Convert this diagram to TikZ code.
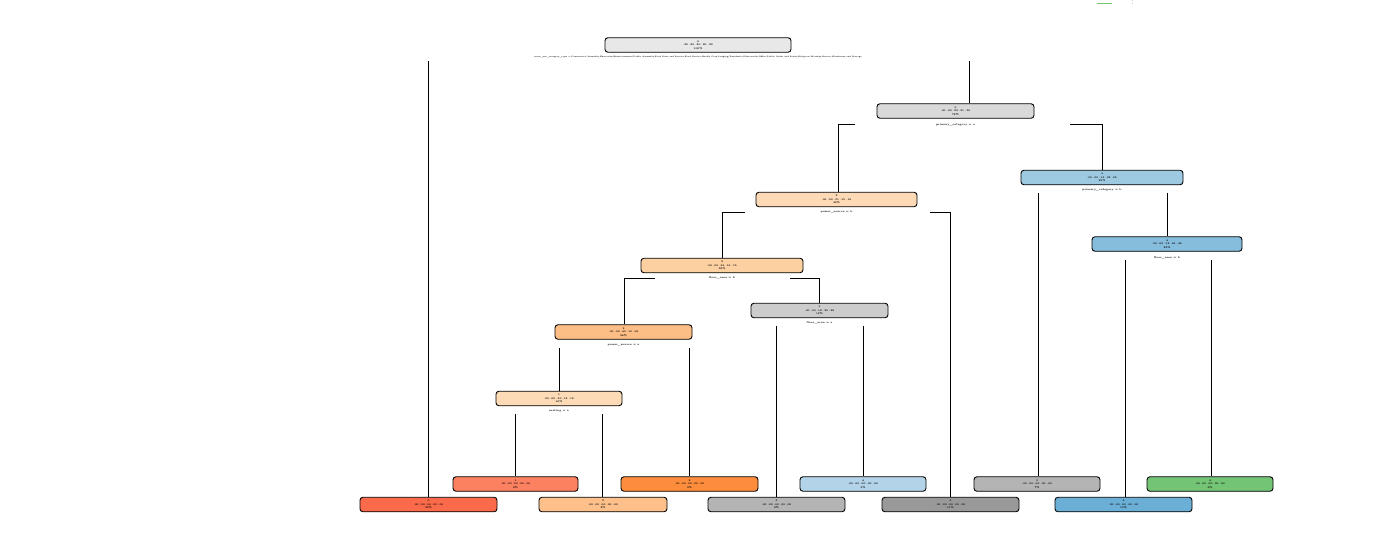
\documentclass[tikz,border=0pt]{standalone}
\usepackage{xcolor}
\begin{document}
\begin{tikzpicture}[x=1pt,y=-1pt,
  box/.style={draw=black, line width=0.9pt, rounded corners=3pt, minimum height=14.5pt, inner sep=0pt, align=center, font=\fontsize{2.5}{3.5}\selectfont\bfseries},
  lbl/.style={inner sep=0pt, font=\fontsize{2.6}{3}\selectfont\bfseries},
  br/.style={line width=0.6pt}]
\useasboundingbox (0,0) rectangle (1398,550);
\definecolor{cRoot}{HTML}{E8E8E8}
\definecolor{cTwo}{HTML}{D9D9D9}
\definecolor{cFive}{HTML}{9ECAE1}
\definecolor{cBlueB}{HTML}{86BCDC}
\definecolor{cFour}{HTML}{FDDAB5}
\definecolor{cEight}{HTML}{FDD0A2}
\definecolor{cGrayN}{HTML}{CCCCCC}
\definecolor{cOrN}{HTML}{FDBE85}
\definecolor{cLP}{HTML}{FDDBB7}
\definecolor{cSalmon}{HTML}{FC8161}
\definecolor{cRed}{HTML}{FB6A4A}
\definecolor{cOrange}{HTML}{FD8D3C}
\definecolor{cLBlue}{HTML}{B3D3E8}
\definecolor{cGrayL}{HTML}{B4B4B4}
\definecolor{cGreen}{HTML}{74C476}
\definecolor{cPeach}{HTML}{FDC08A}
\definecolor{cDGray}{HTML}{999999}
\definecolor{cBlue}{HTML}{6BAED6}
% legend
\draw[cGreen, line width=0.8pt] (1097,3) -- (1112,3);
\node[inner sep=0pt, align=center, font=\fontsize{2.5}{2.5}\selectfont\bfseries] (leg) at (1133,2.5) {:\\:};
% internal nodes
\node[box, fill=cRoot, minimum width=186pt] (n1) at (698,45) {0\\.20 .20 .20 .20 .20\\100\%};
\node[lbl, font=\fontsize{1.9}{2.3}\selectfont\bfseries] (l1) at (698,57) {main\_use\_category\_type = Commercial Assembly,Education,Entertainment/Public Assembly,Food Sales and Service,Food Service,Health Care,Lodging/Residential,Mercantile,Office,Public Order and Safety,Religious Worship,Service,Warehouse and Storage};
\node[box, fill=cTwo, minimum width=157pt] (n2) at (955.5,111) {0\\.00 .00 .22 .21 .30\\78\%};
\node[lbl] (l2) at (955.5,125) {primary\_category = a};
\node[box, fill=cFive, minimum width=162pt] (n5) at (1102,177.5) {4\\.00 .00 .13 .32 .55\\29\%};
\node[lbl] (l5) at (1102,190) {primary\_category = b};
\node[box, fill=cBlueB, minimum width=150pt] (n11) at (1167,244) {4\\.00 .00 .12 .43 .45\\22\%};
\node[lbl] (l11) at (1167,258) {floor\_area = b};
\node[box, fill=cFour, minimum width=161pt] (n4) at (836.5,199.5) {2\\.00 .00 .31 .15 .16\\49\%};
\node[lbl] (l4) at (836.5,212) {power\_source = b};
\node[box, fill=cEight, minimum width=162pt] (n8) at (722,265.5) {2\\.00 .00 .36 .16 .15\\38\%};
\node[lbl] (l8) at (722,278) {floor\_area = b};
\node[box, fill=cGrayN, minimum width=137pt] (n17) at (819.5,310.5) {3\\.00 .00 .18 .29 .28\\12\%};
\node[lbl] (l17) at (819.5,323) {floor\_area = a};
\node[box, fill=cOrN, minimum width=137pt] (n16) at (623.5,332) {2\\.00 .00 .45 .10 .09\\26\%};
\node[lbl] (l16) at (623.5,345) {power\_source = a};
\node[box, fill=cLP, minimum width=126pt] (n32) at (559,398.5) {1\\.00 .00 .30 .12 .12\\16\%};
\node[lbl] (l32) at (559,411) {seating = a};
% leaves
\node[box, fill=cSalmon, minimum width=125pt] (f64) at (515.5,484) {1\\.00 .00 .00 .00 .00\\8\%};
\node[box, fill=cOrange, minimum width=137pt] (f33) at (689.5,484) {2\\.00 .00 .00 .00 .00\\9\%};
\node[box, fill=cLBlue, minimum width=126pt] (f35) at (863,484) {4\\.00 .00 .00 .00 .00\\5\%};
\node[box, fill=cGrayL, minimum width=126pt] (f10) at (1037,484) {3\\.00 .00 .00 .00 .00\\7\%};
\node[box, fill=cGreen, minimum width=126pt] (f23) at (1210,484) {4\\.00 .00 .00 .00 .00\\9\%};
\node[box, fill=cRed, minimum width=137pt] (f1) at (428.5,504.5) {0\\.00 .00 .00 .00 .00\\22\%};
\node[box, fill=cPeach, minimum width=128pt] (f65) at (603,504.5) {2\\.00 .00 .00 .00 .00\\8\%};
\node[box, fill=cGrayL, minimum width=137pt] (f34) at (776.5,504.5) {3\\.00 .00 .00 .00 .00\\8\%};
\node[box, fill=cDGray, minimum width=137pt] (f9) at (950.5,504.5) {3\\.00 .00 .00 .00 .00\\11\%};
\node[box, fill=cBlue, minimum width=137pt] (f22) at (1123.5,504.5) {4\\.00 .00 .00 .00 .00\\13\%};
% branch start points
\coordinate (b1l) at (428,61);  \coordinate (b1r) at (969,61);
\coordinate (b2l) at (855,124); \coordinate (b2r) at (1070,124);
\coordinate (b5l) at (1038,193); \coordinate (b5r) at (1167,193);
\coordinate (b11l) at (1125,260); \coordinate (b11r) at (1211,260);
\coordinate (b4l) at (745,212); \coordinate (b4r) at (930,212);
\coordinate (b8l) at (655,278); \coordinate (b8r) at (790,278);
\coordinate (b17l) at (776,326); \coordinate (b17r) at (863,326);
\coordinate (b16l) at (559,348); \coordinate (b16r) at (689,348);
\coordinate (b32l) at (515,414); \coordinate (b32r) at (602,414);
% connectors
\draw[br] (b1l) -- (b1l |- f1.north);
\draw[br] (b1r) -- (b1r |- n2.north);
\draw[br] (b2l) -| (838,0 |- n4.north);
\draw[br] (b2r) -| (1102,0 |- n5.north);
\draw[br] (b5l) -- (b5l |- f10.north);
\draw[br] (b5r) -- (b5r |- n11.north);
\draw[br] (b11l) -- (b11l |- f22.north);
\draw[br] (b11r) -- (b11r |- f23.north);
\draw[br] (b4l) -| (722,0 |- n8.north);
\draw[br] (b4r) -| (950,0 |- f9.north);
\draw[br] (b8l) -| (624,0 |- n16.north);
\draw[br] (b8r) -| (819,0 |- n17.north);
\draw[br] (b17l) -- (b17l |- f34.north);
\draw[br] (b17r) -- (b17r |- f35.north);
\draw[br] (b16l) -- (b16l |- n32.north);
\draw[br] (b16r) -- (b16r |- f33.north);
\draw[br] (b32l) -- (b32l |- f64.north);
\draw[br] (b32r) -- (b32r |- f65.north);
\end{tikzpicture}
\end{document}
